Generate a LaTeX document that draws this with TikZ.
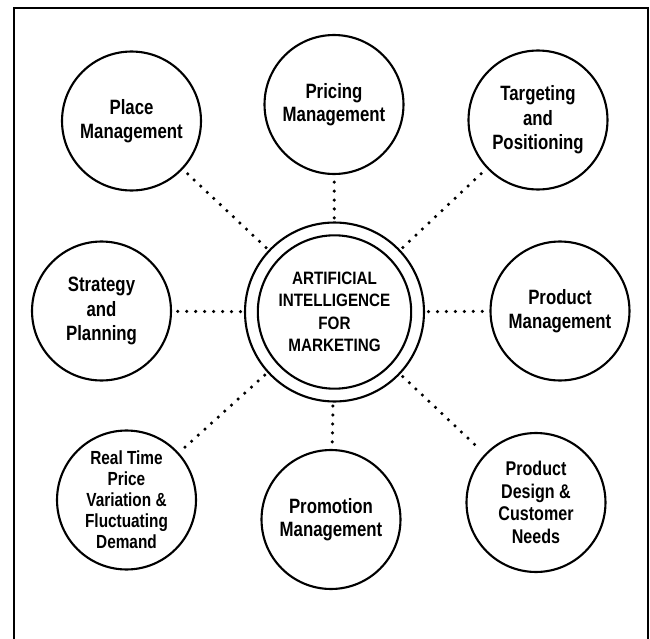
\documentclass[tikz,border=0pt]{standalone}
\usepackage{fontspec}
\setmainfont{Liberation Sans}
\newfontfamily\topicfont{Liberation Sans}[FakeStretch=0.81]
\newfontfamily\corefont{Liberation Sans}[FakeStretch=0.85]
\begin{document}
\begin{tikzpicture}[x=0.02cm, y=-0.02cm,
        topic/.style={circle, draw, line width=1.2pt, minimum size=2.78cm,
            inner sep=0pt, align=center,
            font=\topicfont\bfseries\fontsize{11.8}{13.4}\selectfont},
        link/.style={line width=2pt, line cap=round, dash pattern=on 0pt off 5.1pt,
            shorten <=2pt, shorten >=3pt}]
    \useasboundingbox (0,0) rectangle (650,639);
    \draw[line width=1.7pt] (14,639) -- (14,8) -- (648,8) -- (648,639);

    % centre
    \node[circle, draw, line width=1.2pt, minimum size=3.58cm] (ai) at (334.5,312) {};
    \node[circle, draw, line width=1.2pt, minimum size=2.94cm, align=center,
        font=\corefont\bfseries\fontsize{10.2}{12.8}\selectfont] (core) at (334.5,312)
        {ARTIFICIAL\\INTELLIGENCE\\FOR\\MARKETING};

    % outer topics
    \node[topic] (place) at (131.5,121) {Place\\Management};
    \node[topic] (pricing) at (334,104.5) {Pricing\\Management};
    \node[topic, font=\topicfont\bfseries\fontsize{11.8}{14}\selectfont] (target)
        at (538,120) {Targeting\\and\\Positioning};
    \node[topic, font=\topicfont\bfseries\fontsize{11.8}{14}\selectfont] (strategy)
        at (101.5,311) {Strategy\\and\\Planning};
    \node[topic] (product) at (560,311) {Product\\Management};
    \node[topic, font=\topicfont\bfseries\fontsize{10.8}{11.9}\selectfont] (realtime)
        at (126.5,500) {Real Time\\Price\\Variation \&\\Fluctuating\\Demand};
    \node[topic] (promotion) at (331,519.5) {Promotion\\Management};
    \node[topic, font=\topicfont\bfseries\fontsize{11.3}{12.9}\selectfont] (design)
        at (536,502.5) {Product\\Design \&\\Customer\\Needs};

    % dotted links
    \foreach \t in {place, pricing, target, strategy, product, realtime, promotion, design}
        \draw[link] (ai) -- (\t);
\end{tikzpicture}
\end{document}
